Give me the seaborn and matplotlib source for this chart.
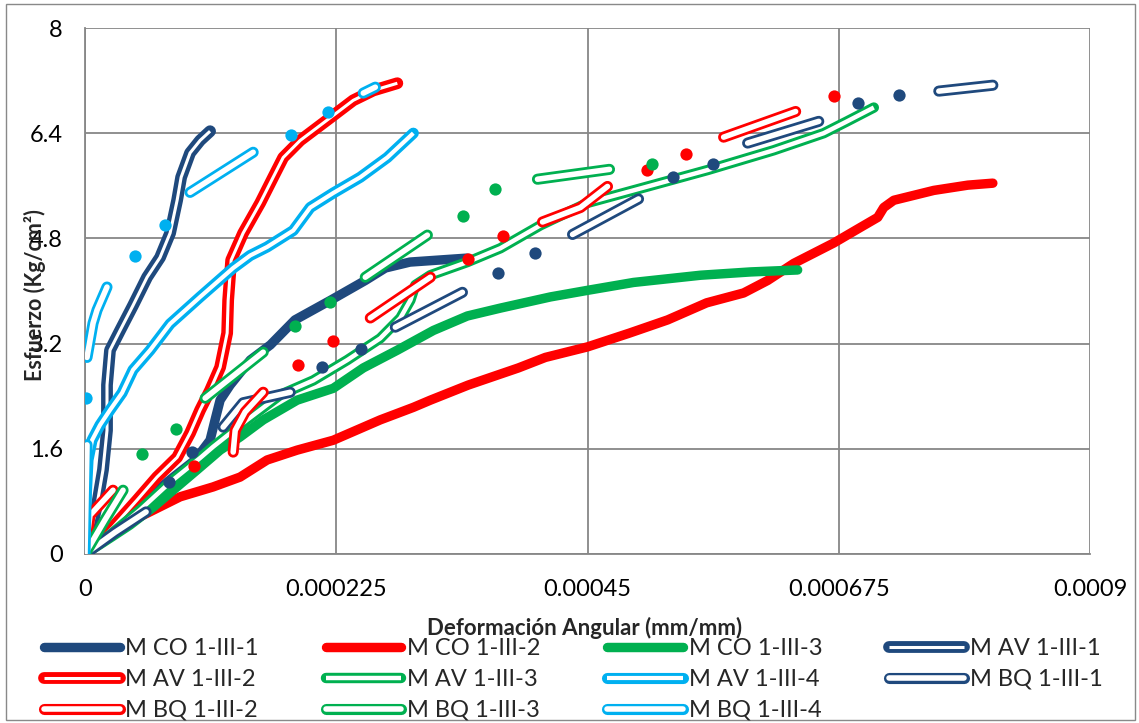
import numpy as np
import pandas as pd
import matplotlib
matplotlib.use('Agg')
import matplotlib.pyplot as plt
import matplotlib.patheffects as pe
from matplotlib.lines import Line2D
from matplotlib.patches import Rectangle
import seaborn as sns

NAVY = '#1F497D'
RED = '#FF0000'
GREEN = '#00B050'
SKY = '#00B0F0'
nan = np.nan

# x en 1e-6 mm/mm, y en Kg/cm2
co1_x = [0, 22.4, 49.3, 76.2, 98.6, 112.0, 116.5, 121.0, 130.0, 148.0, 166.0, 188.0, 220.0, 251.0, 269.0, 291.0, 342.0]
co1_y = [0, 0.36, 0.75, 1.13, 1.43, 1.73, 2.04, 2.34, 2.57, 2.95, 3.18, 3.56, 3.86, 4.16, 4.35, 4.44, 4.50]

co2_x = [0, 25.1, 55.6, 85.2, 114.7, 138.9, 163.1, 190.0, 222.3, 264.4, 294.0, 309.3, 343.3, 388.1, 412.3,
         450.0, 487.6, 521.7, 556.7, 589.8, 611.3, 634.7, 670.5, 694.7, 709.9, 715.3, 724.3, 760.1, 790.6, 813.0]
co2_y = [0, 0.37, 0.62, 0.87, 1.02, 1.17, 1.43, 1.58, 1.73, 2.04, 2.23, 2.34, 2.57, 2.83, 2.99,
         3.15, 3.36, 3.56, 3.82, 3.97, 4.16, 4.42, 4.73, 4.97, 5.12, 5.27, 5.38, 5.53, 5.61, 5.64]

co3_x = [0, 13.4, 26.9, 40.3, 61.0, 78.9, 100.4, 121.0, 138.9, 159.6, 174.8, 190.0, 222.3, 249.2, 279.7,
         312.0, 342.4, 372.0, 416.8, 450.0, 491.2, 551.3, 596.1, 638.2]
co3_y = [0, 0.14, 0.29, 0.44, 0.71, 0.97, 1.28, 1.58, 1.78, 2.04, 2.19, 2.34, 2.52, 2.83, 3.10,
         3.40, 3.62, 3.74, 3.91, 4.01, 4.13, 4.24, 4.29, 4.32]

av1_x = [0, 4.5, 10.8, 16.1, 19.7, 19.7, 22.4, 31.4, 43.0, 55.6, 67.2, 76.2, 82.5, 86.1, 94.1, 103.1, 112.0]
av1_y = [0, 0.29, 0.75, 1.28, 1.88, 2.57, 3.10, 3.40, 3.78, 4.21, 4.51, 4.88, 5.38, 5.73, 6.10, 6.29, 6.43]

av2_x = [0, 10.8, 25.1, 46.6, 64.5, 82.5, 94.1, 103.1, 112.0, 121.0, 127.3, 128.2, 130.9, 141.6, 156.9,
         168.5, 177.5, 192.7, 216.9, 240.2, 258.2, 279.7]
av2_y = [0, 0.17, 0.41, 0.82, 1.17, 1.47, 1.84, 2.19, 2.49, 2.84, 3.36, 3.86, 4.47, 4.88, 5.34,
         5.73, 6.03, 6.29, 6.60, 6.90, 7.05, 7.16]

av3_x = [0, 22.4, 49.3, 76.2, 103.1, 114.7, 145.2, 174.8, 204.4, 234.9, 264.4, 282.4, 291.4, 295.8, 309.3,
         342.4, 372.0, 407.9, 450.0, 497.5, 557.6, 616.7, 661.5, 681.3, 706.4]
av3_y = [0, 0.29, 0.67, 1.09, 1.46, 1.63, 2.04, 2.42, 2.64, 2.95, 3.28, 3.59, 3.86, 4.09, 4.24,
         4.44, 4.65, 5.00, 5.34, 5.56, 5.84, 6.14, 6.40, 6.57, 6.79]

av4_x = [0, 0.9, 2.7, 6.3, 13.4, 22.4, 33.2, 43.0, 58.3, 76.2, 103.1, 132.7, 147.9, 163.1, 186.5,
         201.7, 222.3, 246.5, 270.7, 294.0]
av4_y = [0, 0.82, 1.43, 1.73, 1.96, 2.19, 2.45, 2.80, 3.10, 3.50, 3.91, 4.35, 4.54, 4.67, 4.92,
         5.27, 5.49, 5.73, 6.03, 6.40]

bq1_x = [0, 26.9, 54.7, nan, 75.3, nan, 95.9, nan, 123.7, 141.6, 183.8, nan, 212.4, nan, 247.4, nan,
         277.9, 338.0, nan, 370.2, nan, 403.4, nan, 436.6, 495.7, nan, 526.2, nan, 562.0, nan,
         593.4, 657.1, nan, 692.0, nan, 728.8, nan, 764.6, 813.0]
bq1_y = [0, 0.33, 0.64, nan, 1.09, nan, 1.55, nan, 1.93, 2.30, 2.46, nan, 2.84, nan, 3.12, nan,
         3.45, 3.98, nan, 4.27, nan, 4.58, nan, 4.86, 5.40, nan, 5.73, nan, 5.93, nan,
         6.25, 6.58, nan, 6.86, nan, 6.98, nan, 7.04, 7.13]

bq2_x = [0, 4.5, 25.1, nan, 97.7, nan, 132.7, 134.5, 143.4, 159.6, nan, 190.9, nan, 222.3, nan,
         255.5, 309.3, nan, 343.3, nan, 374.7, nan, 409.7, 443.7, 467.9, nan, 502.9, nan, 537.8, nan,
         571.9, 636.4, nan, 670.5]
bq2_y = [0, 0.59, 0.97, nan, 1.34, nan, 1.55, 1.88, 2.16, 2.46, nan, 2.87, nan, 3.24, nan,
         3.59, 4.21, nan, 4.48, nan, 4.83, nan, 5.05, 5.27, 5.59, nan, 5.84, nan, 6.08, nan,
         6.34, 6.73, nan, 6.96]

bq3_x = [0, 17.9, 34.1, nan, 51.1, nan, 81.6, nan, 107.6, 159.6, nan, 188.2, nan, 219.6, nan,
         251.0, 306.6, nan, 338.8, nan, 367.5, nan, 405.2, 469.7, nan, 507.4]
bq3_y = [0, 0.52, 0.97, nan, 1.52, nan, 1.90, nan, 2.37, 3.07, nan, 3.47, nan, 3.83, nan,
         4.21, 4.85, nan, 5.14, nan, 5.55, nan, 5.70, 5.85, nan, 5.93]

bq4_x = [0, 0.9, 1.8, nan, 0.9, nan, 1.8, 7.2, 10.8, 19.7, nan, 44.8, nan, 71.7, nan,
         94.1, 150.6, nan, 184.7, nan, 217.8, nan, 249.2, 260.0]
bq4_y = [0, 0.82, 1.66, nan, 2.37, nan, 2.99, 3.51, 3.71, 4.06, nan, 4.53, nan, 5.00, nan,
         5.50, 6.11, nan, 6.38, nan, 6.72, nan, 7.01, 7.10]

# (nombre, x, y, color, ancho, ancho interior blanco, tapa interior)
series = [
    ('M CO 1-III-1', co1_x, co1_y, NAVY, 6.8, 0, 'round'),
    ('M CO 1-III-2', co2_x, co2_y, RED, 6.8, 0, 'round'),
    ('M CO 1-III-3', co3_x, co3_y, GREEN, 6.8, 0, 'round'),
    ('M AV 1-III-1', av1_x, av1_y, NAVY, 8.5, 2.2, 'butt'),
    ('M AV 1-III-2', av2_x, av2_y, RED, 8.5, 2.2, 'butt'),
    ('M AV 1-III-3', av3_x, av3_y, GREEN, 7.5, 3.2, 'butt'),
    ('M AV 1-III-4', av4_x, av4_y, SKY, 8.0, 3.0, 'butt'),
    ('M BQ 1-III-1', bq1_x, bq1_y, NAVY, 8.0, 4.0, 'round'),
    ('M BQ 1-III-2', bq2_x, bq2_y, RED, 8.0, 4.0, 'round'),
    ('M BQ 1-III-3', bq3_x, bq3_y, GREEN, 8.0, 4.0, 'round'),
    ('M BQ 1-III-4', bq4_x, bq4_y, SKY, 8.0, 4.0, 'round'),
]

sns.set_style('white')
plt.rcParams['font.family'] = ['Lato', 'DejaVu Sans']


def pieces(x, y):
    df = pd.DataFrame({'x': np.asarray(x, float) * 1e-6, 'y': np.asarray(y, float)})
    df['g'] = df['y'].isna().cumsum()
    df = df.dropna()
    return [d for _, d in df.groupby('g')]


def outline(color, lw):
    return [pe.Stroke(linewidth=lw, foreground=color, capstyle='round', joinstyle='round'), pe.Normal()]


fig = plt.figure(figsize=(11.39, 7.23), dpi=100)
ax = fig.add_axes([85 / 1139, 1 - 554 / 723, (1090 - 85) / 1139, (554 - 28) / 723])

handles = {}
for i, (name, xs, ys, color, lw, inner, cap) in enumerate(series):
    z = 3 + i * 0.1
    for part in pieces(xs, ys):
        if len(part) == 1:
            sns.scatterplot(data=part, x='x', y='y', color=color, s=78, linewidth=0, ax=ax, zorder=z)
        elif inner == 0:
            sns.lineplot(data=part, x='x', y='y', color=color, linewidth=lw, sort=False, estimator=None,
                         ax=ax, zorder=z, solid_capstyle='round', solid_joinstyle='round')
        else:
            sns.lineplot(data=part, x='x', y='y', color='white', linewidth=inner, sort=False, estimator=None,
                         ax=ax, zorder=z, solid_capstyle=cap, solid_joinstyle='round',
                         path_effects=outline(color, lw))
    if inner == 0:
        handles[name] = Line2D([], [], color=color, lw=lw, solid_capstyle='round')
    else:
        handles[name] = Line2D([], [], color='white', lw=inner, solid_capstyle=cap,
                               path_effects=outline(color, lw))

ax.set_xlim(0, 0.0009)
ax.set_ylim(0, 8)
ax.set_xticks([0, 0.000225, 0.00045, 0.000675, 0.0009])
ax.set_xticklabels(['0', '0.000225', '0.00045', '0.000675', '0.0009'])
ax.set_yticks([0, 1.6, 3.2, 4.8, 6.4, 8])
ax.set_yticklabels(['0', '1.6', '3.2', '4.8', '6.4', '8'])
ax.set_xlabel('')
ax.set_ylabel('')
ax.grid(True, color='#878787', linewidth=1.3)
ax.set_axisbelow(True)
for s in ['top', 'right']:
    ax.spines[s].set_visible(False)
for s in ['left', 'bottom']:
    ax.spines[s].set_color('#878787')
    ax.spines[s].set_linewidth(1.3)
ax.tick_params(axis='both', length=6, width=1.3, color='#878787', labelsize=17,
               labelcolor='black', pad=10, direction='out')
ax.tick_params(axis='x', pad=12)

fig.text(35 / 1139, 1 - 295 / 723, 'Esfuerzo (Kg/cm²)', rotation=90, ha='center', va='center',
         fontsize=15.5, fontweight='bold')
fig.text(585 / 1139, 1 - 628 / 723, 'Deformación Angular (mm/mm)', ha='center', va='center',
         fontsize=16, fontweight='bold')

# matplotlib llena la leyenda por columnas
order = ['M CO 1-III-1', 'M AV 1-III-2', 'M BQ 1-III-2',
         'M CO 1-III-2', 'M AV 1-III-3', 'M BQ 1-III-3',
         'M CO 1-III-3', 'M AV 1-III-4', 'M BQ 1-III-4',
         'M AV 1-III-1', 'M BQ 1-III-1']
fig.legend([handles[n] for n in order], order, ncol=4, loc='upper left',
           bbox_to_anchor=(44 / 1139, 0, (1103 - 44) / 1139, 1 - 638 / 723), mode='expand',
           frameon=False, fontsize=17, handlelength=3.2, handletextpad=0.25,
           labelspacing=0.42, borderaxespad=0, borderpad=0)

fig.patches.append(Rectangle((6 / 1139, 3 / 723), 1129 / 1139, 716 / 723, transform=fig.transFigure,
                             fill=False, edgecolor='#898989', linewidth=1))

fig.savefig('out.png', dpi=100)
